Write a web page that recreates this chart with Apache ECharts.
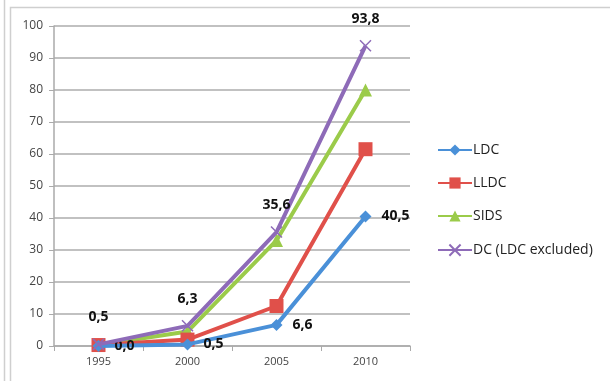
<!DOCTYPE html>
<html><head><meta charset="utf-8">
<script src="https://cdn.jsdelivr.net/npm/echarts@6/dist/echarts.min.js"></script>
<style>html,body{margin:0;padding:0;background:#fff}#c{width:610px;height:381px}</style>
</head><body><div id="c"></div>
<script>
const categories = ['1995','2000','2005','2010'];
const ldc  = [0.0, 0.5, 6.6, 40.5];
const lldc = [0.3, 2.0, 12.5, 61.5];
const sids = [0.3, 4.5, 33.0, 80.0];
const dc   = [0.5, 6.3, 35.6, 93.8];
const seriesNames = ['LDC','LLDC','SIDS','DC (LDC excluded)'];

const crossPath = 'path://M0,0L10,10M10,0L0,10';
const fmt = p => String(p.value.toFixed(1)).replace('.', ',');
const chart = echarts.init(document.getElementById('c'));
const lblStyle = {show:true, formatter:fmt, color:'#111', fontWeight:'bold', fontSize:14, fontFamily:'Open Sans, sans-serif'};
chart.setOption({
  animation:false,
  graphic:[
    {type:'rect', shape:{x:10.5,y:7.5,width:620,height:400}, style:{fill:'none', stroke:'#cfcfcf', lineWidth:1.5}},
    {type:'line', shape:{x1:4.5,y1:0,x2:4.5,y2:381}, style:{stroke:'#cfcfcf', lineWidth:1.5}}
  ],
  grid:{left:54, right:200, top:26, bottom:35},
  legend:{
    orient:'vertical', left:432, top:138, itemGap:19, itemWidth:34, itemHeight:14,
    textStyle:{fontSize:14, color:'#222', fontFamily:'Open Sans, sans-serif', padding:[0,0,0,-4]},
    data:seriesNames
  },
  xAxis:{
    type:'category', data:categories, boundaryGap:true,
    axisLine:{lineStyle:{color:'#aaa', width:1.5}},
    axisTick:{show:true, length:5, lineStyle:{color:'#aaa'}},
    axisLabel:{color:'#444', fontSize:11, margin:10, fontFamily:'Open Sans, sans-serif'}
  },
  yAxis:{
    type:'value', min:0, max:100, interval:10,
    axisLine:{show:true, lineStyle:{color:'#aaa', width:1.5}},
    axisTick:{show:true, length:5, lineStyle:{color:'#aaa'}},
    axisLabel:{color:'#444', fontSize:12, margin:11, fontFamily:'Open Sans, sans-serif'},
    splitLine:{lineStyle:{color:'#acacac', width:1.5}}
  },
  series:[
    {name:'LDC', type:'line', data:ldc, symbol:'diamond', symbolSize:12, color:'#4a90d8',
     lineStyle:{width:4}, label:Object.assign({position:'right', distance:10}, lblStyle), z:4},
    {name:'LLDC', type:'line', data:lldc, symbol:'rect', symbolSize:14, color:'#e0504a',
     lineStyle:{width:4}, z:3},
    {name:'SIDS', type:'line', data:sids, symbol:'triangle', symbolSize:13, color:'#9bcb4a',
     lineStyle:{width:4}, z:2},
    {name:'DC (LDC excluded)', type:'line', data:dc, symbol:crossPath, symbolSize:11, color:'#8e6bb8',
     itemStyle:{color:'none', borderColor:'#8e6bb8', borderWidth:1.5},
     lineStyle:{width:4, color:'#8e6bb8'}, label:Object.assign({position:'top', distance:12}, lblStyle), z:5}
  ]
});
</script></body></html>
